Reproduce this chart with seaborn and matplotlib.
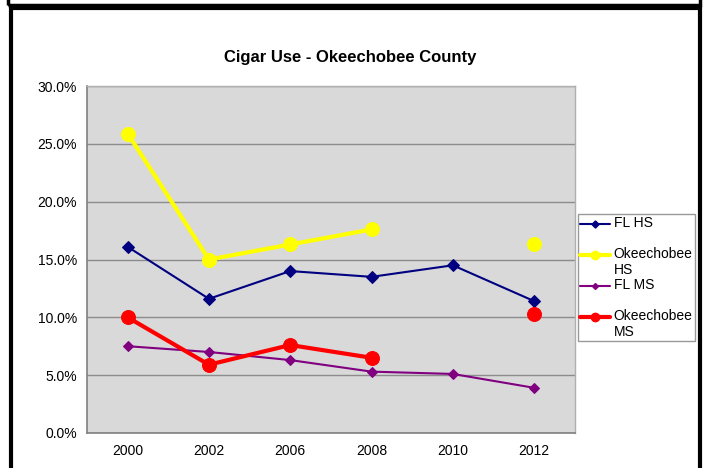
import numpy as np
import pandas as pd
import matplotlib
matplotlib.use('Agg')
import matplotlib.pyplot as plt
from matplotlib.lines import Line2D
from matplotlib.patches import Rectangle
from matplotlib.legend_handler import HandlerLine2D
import seaborn as sns

years = ['2000', '2002', '2006', '2008', '2010', '2012']
fl_hs = [16.1, 11.6, 14.0, 13.5, 14.5, 11.4]
okee_hs = [25.9, 15.0, 16.3, 17.6, np.nan, 16.3]
fl_ms = [7.5, 7.0, 6.3, 5.3, 5.1, 3.9]
okee_ms = [10.0, 5.9, 7.6, 6.5, np.nan, 10.3]

series = [
    ('FL HS\n ', fl_hs, '#000080', 1.5, 'D', 6),
    ('Okeechobee\nHS', okee_hs, '#FFFF00', 3.0, 'o', 10),
    ('FL MS\n ', fl_ms, '#800080', 1.5, 'D', 5),
    ('Okeechobee\nMS', okee_ms, '#FF0000', 3.0, 'o', 10),
]


class FirstLineHandler(HandlerLine2D):
    # put the legend line next to the first text line, as Excel does
    def create_artists(self, legend, orig_handle, xdescent, ydescent,
                       width, height, fontsize, trans):
        return super().create_artists(legend, orig_handle, xdescent,
                                      ydescent - 1.1 * fontsize, width, height,
                                      fontsize, trans)


def main():
    sns.set_style('white')
    plt.rcParams['font.family'] = ['Liberation Sans', 'DejaVu Sans']
    plt.rcParams['text.color'] = 'black'
    plt.rcParams['xtick.color'] = 'black'
    plt.rcParams['ytick.color'] = 'black'

    fig = plt.figure(figsize=(7.07, 4.68), dpi=100)
    ax = fig.add_axes([0.123, 0.075, 0.690, 0.741])
    ax.set_facecolor('#d9d9d9')

    handles = []
    for name, vals, color, lw, mk, ms in series:
        df = pd.DataFrame({'pos': np.arange(len(years)), 'val': vals})
        df['run'] = df['val'].isna().cumsum()
        df = df.dropna()
        sns.lineplot(data=df, x='pos', y='val', units='run', estimator=None,
                     color=color, linewidth=lw, marker=mk, markersize=ms,
                     markeredgecolor=color, ax=ax, legend=False, sort=False)
        handles.append(Line2D([], [], color=color, linewidth=lw, marker=mk,
                              markersize=ms * 0.6, markeredgecolor=color, label=name))

    ax.set_xlim(-0.5, len(years) - 0.5)
    ax.set_ylim(0, 30)
    ax.set_yticks(np.arange(0, 31, 5))
    ax.set_yticklabels([f'{v:.1f}%' for v in np.arange(0, 31, 5)], fontsize=10)
    ax.set_xticks(np.arange(len(years)))
    ax.set_xticklabels(years, fontsize=10)
    ax.set_xticks(np.arange(len(years) + 1) - 0.5, minor=True)
    ax.tick_params(axis='x', which='major', length=0, pad=8)
    ax.tick_params(axis='x', which='minor', length=5, color='#808080', direction='out')
    ax.tick_params(axis='y', length=4, color='#808080', direction='out', pad=3)
    ax.set_xlabel('')
    ax.set_ylabel('')
    ax.yaxis.grid(True, color='#8c8c8c', linewidth=1)
    ax.set_axisbelow(True)
    for side in ['left', 'bottom']:
        ax.spines[side].set_color('#808080')
        ax.spines[side].set_linewidth(1.2)
    for side in ['top', 'right']:
        ax.spines[side].set_color('#b0b0b0')
        ax.spines[side].set_linewidth(1)

    fig.text(0.495, 0.878, 'Cigar Use - Okeechobee County', ha='center', va='center',
             fontsize=12, fontweight='bold', color='black')

    leg = fig.legend(handles=handles, loc='upper left', bbox_to_anchor=(0.818, 0.543),
                     fontsize=10, frameon=True, fancybox=False, handlelength=2.1,
                     handletextpad=0.3, borderpad=0.15, borderaxespad=0,
                     labelspacing=0.05,
                     handler_map={Line2D: FirstLineHandler()})
    leg.get_frame().set_edgecolor('#808080')
    leg.get_frame().set_linewidth(1)

    # outer frames
    fig.add_artist(Rectangle((0.012, 0.989), 0.978, 0.05, transform=fig.transFigure,
                             fill=False, edgecolor='black', linewidth=2.5))
    fig.add_artist(Rectangle((0.015, -0.05), 0.975, 1.033, transform=fig.transFigure,
                             fill=False, edgecolor='black', linewidth=3))

    fig.savefig('out.png', dpi=100)


if __name__ == '__main__':
    main()
